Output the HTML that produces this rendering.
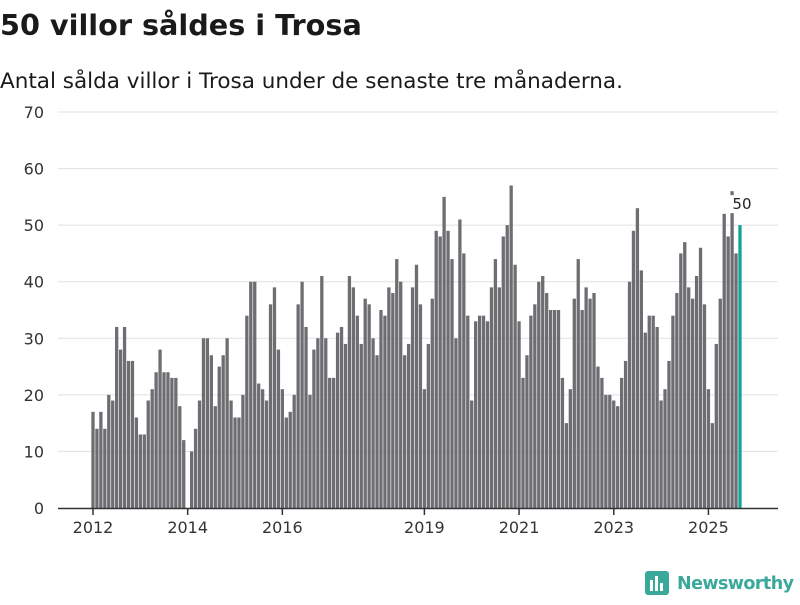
<!DOCTYPE html>
<html><head><meta charset="utf-8"><style>
body{margin:0;background:#fff;width:800px;height:600px;overflow:hidden;font-family:"Liberation Sans","DejaVu Sans",sans-serif}
</style></head><body>
<svg width="800" height="600" xmlns="http://www.w3.org/2000/svg">
<text x="0" y="35" font-size="28.7" font-weight="bold" fill="#1a1a1a" font-family="DejaVu Sans, sans-serif">50 villor såldes i Trosa</text>
<text x="0" y="88" font-size="21.5" fill="#1a1a1a" font-family="DejaVu Sans, sans-serif">Antal sålda villor i Trosa under de senaste tre månaderna.</text>
<g id="grid"></g><g id="bars"></g><g id="axis"></g>
<g>
<rect x="645" y="571" width="24" height="24" rx="3" fill="#3aa89a"/>
<rect x="650" y="580" width="3" height="11" fill="#fff"/><rect x="655" y="576" width="3" height="15" fill="#fff"/><rect x="660" y="583" width="3" height="8" fill="#fff"/>
<text x="677" y="589" font-size="17.5" font-weight="bold" fill="#3aa89a" font-family="DejaVu Sans, sans-serif" textLength="117">Newsworthy</text>
</g>
</svg>
<script>
const startYear = 2012;
const values = [17,14,17,14,20,19,32,28,32,26,26,16,
13,13,19,21,24,28,24,24,23,23,18,12,
0,10,14,19,30,30,27,18,25,27,30,19,
16,16,20,34,40,40,22,21,19,36,39,28,
21,16,17,20,36,40,32,20,28,30,41,30,
23,23,31,32,29,41,39,34,29,37,36,30,
27,35,34,39,38,44,40,27,29,39,43,36,
21,29,37,49,48,55,49,44,30,51,45,34,
19,33,34,34,33,39,44,39,48,50,57,43,
33,23,27,34,36,40,41,38,35,35,35,23,
15,21,37,44,35,39,37,38,25,23,20,20,
19,18,23,26,40,49,53,42,31,34,34,32,
19,21,26,34,38,45,47,39,37,41,46,36,
21,15,29,37,52,48,56,45,50];
const yTicks = [0,10,20,30,40,50,60,70];
const xTickYears = [2012,2014,2016,2019,2021,2023,2025];
const NS="http://www.w3.org/2000/svg";
const y0=508, yScale=396/70, x0=93, step=3.945;
const yPos=v=>y0-v*yScale, xPos=i=>x0+i*step;
const grid=document.getElementById('grid'), bars=document.getElementById('bars'), axis=document.getElementById('axis');
function mk(tag,attrs,parent){const e=document.createElementNS(NS,tag);for(const k in attrs)e.setAttribute(k,attrs[k]);parent.appendChild(e);return e;}
yTicks.forEach(t=>{
  if(t>0){const l=mk('line',{x1:58,x2:778,y1:yPos(t),y2:yPos(t),stroke:'#e0e0e0','stroke-width':1},grid);
  
  }
  const tx=mk('text',{x:44,y:yPos(t)+6,'text-anchor':'end','font-size':16,fill:'#333','font-family':'DejaVu Sans, sans-serif'},axis);
  tx.textContent=t;
  
  
});
values.forEach((v,i)=>{
  const last=i===values.length-1;
  const r=mk('rect',{x:xPos(i)-1.65,y:yPos(v),width:3.3,height:v*yScale,fill:last?'#14a198':'#6e6d72'},bars);
  
  
});
const li=values.length-1;
const lx=xPos(li)+2, ly=yPos(values[li])-16;
const bg=mk('rect',{x:lx-12,y:ly-14,width:24,height:18,fill:'#fff'},axis);


const lab=mk('text',{x:lx,y:ly,'text-anchor':'middle','font-size':15,fill:'#222','font-family':'DejaVu Sans, sans-serif'},axis);
lab.textContent=values[li];


const base=mk('line',{x1:58,x2:778,y1:y0+0.5,y2:y0+0.5,stroke:'#333','stroke-width':1.5},axis);


xTickYears.forEach(yr=>{
  const x=xPos((yr-startYear)*12);
  const tk=mk('line',{x1:x,x2:x,y1:y0,y2:y0+7,stroke:'#333','stroke-width':1.5},axis);
  
  
  const tx=mk('text',{x:x,y:y0+25,'text-anchor':'middle','font-size':16,fill:'#333','font-family':'DejaVu Sans, sans-serif'},axis);
  tx.textContent=yr;
  
  
});
</script>
</body></html>
